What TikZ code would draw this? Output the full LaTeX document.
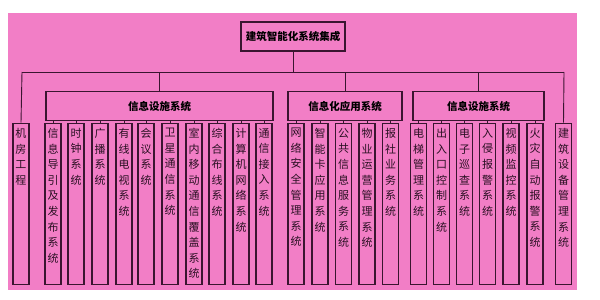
\documentclass[tikz,border=0pt]{standalone}
\usepackage{fontspec}
\newfontfamily\cjk{Noto Sans CJK SC}
\usepackage{xcolor}
\definecolor{bipink}{HTML}{F27EC6}
\definecolor{bidark}{HTML}{3A1530}

\begin{document}
\begin{tikzpicture}[x=1pt, y=-1pt,
    every node/.style={font=\cjk},
    topbox/.style={draw=bidark, line width=1.4pt, fill=bipink, inner sep=0pt,
        font=\cjk\bfseries\fontsize{10.5}{12}\selectfont},
    groupbox/.style={draw=bidark, line width=1.4pt, fill=bipink, inner sep=0pt,
        font=\cjk\bfseries\fontsize{10.5}{12}\selectfont},
    leafbox/.style={draw=bidark, line width=1.4pt, fill=bipink, inner sep=0pt,
        minimum width=16pt, minimum height=161pt, anchor=north},
    leaftext/.style={anchor=north, align=center, inner sep=0pt, text=bidark!70!black,
        font=\cjk\fontsize{11}{15.6}\selectfont},
    bus/.style={draw=bidark, line width=0.9pt}]
    \useasboundingbox (0,0) rectangle (600,300);

    % Background panel
    \fill[bipink] (8,13) rectangle (577,290);

    % Root
    \node[topbox, minimum width=104pt, minimum height=29pt] (root) at (293,36.5) {建筑智能化系统集成};

    % Main bus
    \coordinate (busL) at (22,72);
    \coordinate (busR) at (564,72);
    \coordinate (busC) at (293,72);
    \draw[bus] (root.south) -- (busC);
    \draw[bus] (busL) -- (busR);

    % Group boxes
    \node[groupbox, minimum width=227pt, minimum height=28.5pt] (g1) at (159.5,106) {信息设施系统};
    \node[groupbox, minimum width=114pt, minimum height=28.5pt] (g2) at (345,106) {信息化应用系统};
    \node[groupbox, minimum width=131pt, minimum height=28.5pt] (g3) at (478.5,106) {信息设施系统};
    \foreach \g in {g1,g2,g3} {
        \draw[bus] (\g.north |- busC) -- (\g.north);
    }

    % Leaves hanging directly on the bus
    \node[leafbox] (l0) at (21,122.7) {};
    \node[leaftext] (l0t) at (21,128) {机\\房\\工\\程};
    \draw[bus] (busL) -- (l0.north);

    \node[leafbox] (l26) at (563.5,122.7) {};
    \node[leaftext] (l26t) at (563.5,128) {建\\筑\\设\\备\\管\\理\\系\\统};
    \draw[bus] (busR) -- (l26.north);

    % Children of the groups
    \foreach \i/\x/\g/\t in {
        1/53/g1/{信\\息\\导\\引\\及\\发\\布\\系\\统},
        2/76/g1/{时\\钟\\系\\统},
        3/100/g1/{广\\播\\系\\统},
        4/124/g1/{有\\线\\电\\视\\系\\统},
        5/146/g1/{会\\议\\系\\统},
        6/170/g1/{卫\\星\\通\\信\\系\\统},
        7/194/g1/{室\\内\\移\\动\\通\\信\\覆\\盖\\系\\统},
        8/217/g1/{综\\合\\布\\线\\系\\统},
        9/241/g1/{计\\算\\机\\网\\络\\系\\统},
        10/264/g1/{通\\信\\接\\入\\系\\统},
        11/296/g2/{网\\络\\安\\全\\管\\理\\系\\统},
        12/320/g2/{智\\能\\卡\\应\\用\\系\\统},
        13/343.5/g2/{公\\共\\信\\息\\服\\务\\系\\统},
        14/367/g2/{物\\业\\运\\营\\管\\理\\系\\统},
        15/390.5/g2/{报\\社\\业\\务\\系\\统},
        19/418.5/g3/{电\\梯\\管\\理\\系\\统},
        20/441.5/g3/{出\\入\\口\\控\\制\\系\\统},
        21/464.5/g3/{电\\子\\巡\\查\\系\\统},
        22/487.5/g3/{入\\侵\\报\\警\\系\\统},
        23/511/g3/{视\\频\\监\\控\\系\\统},
        24/535/g3/{火\\灾\\自\\动\\报\\警\\系\\统}} {
        \node[leafbox] (l\i) at (\x,122.7) {};
        \node[leaftext] (l\i t) at (\x,128) {\t};
        \draw[bus] (l\i.north |- \g.south) -- (l\i.north);
    }
\end{tikzpicture}
\end{document}
